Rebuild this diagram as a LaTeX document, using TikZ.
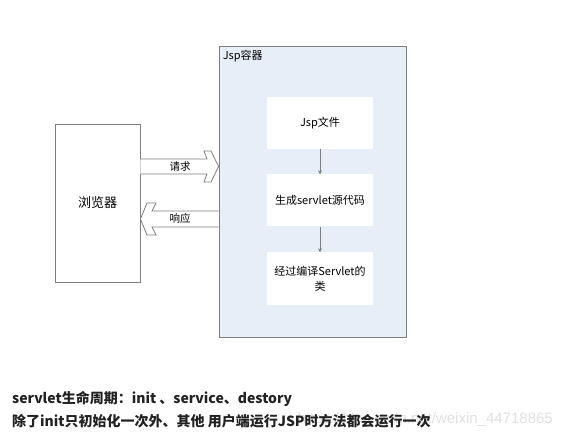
\documentclass[tikz,border=0pt]{standalone}
\usepackage{fontspec}
\setmainfont{Noto Sans CJK SC}
\newfontfamily\markfont{Liberation Sans}
\usetikzlibrary{arrows.meta, positioning, calc}
\definecolor{BoxLine}{HTML}{7F7F7F}
\definecolor{CPale}{HTML}{E8EEF7}
\definecolor{CWhite}{HTML}{FFFFFF}
\definecolor{CText}{HTML}{222222}
\tikzset{
  stagebox/.style={fill=CWhite, minimum width=106pt, minimum height=52pt, inner sep=1pt, align=center, font=\fontsize{11}{15}\selectfont, text width=100pt},
  flowline/.style={draw=BoxLine, thick, -{Stealth[length=4pt,width=4pt]}},
  blockarrow/.style={draw=BoxLine, fill=CWhite, line width=0.8pt, line join=miter},
  notetext/.style={anchor=base west, inner sep=0pt, text=CText, font=\fontsize{14}{16}\selectfont\bfseries}
}

\begin{document}
\begin{tikzpicture}[x=1pt, y=-1pt]
  \useasboundingbox[fill=CWhite] (0,0) rectangle (562,438);
  % browser and container
  \node[draw=BoxLine, line width=0.9pt, minimum width=85pt, minimum height=158pt,
        font=\fontsize{13}{15}\selectfont] (browser) at (97.5,203) {浏览器};
  \node[draw=BoxLine, fill=CPale, line width=0.9pt, minimum width=187pt, minimum height=291pt] (container) at (312.5,191.5) {};
  \node[anchor=west, inner sep=0pt, font=\fontsize{11}{13}\selectfont] (ctitle) at ($(container.north west)+(4,11)$) {Jsp容器};
  % stages inside the container
  \node[stagebox] (jspfile) at (320,123) {Jsp文件};
  \node[stagebox] (source) at (320,200.5) {生成servlet源代码};
  \node[stagebox] (classfile) at (320,278.5) {经过编译Servlet的\\类};
  \draw[flowline] (jspfile) -- (source);
  \draw[flowline] (source) -- (classfile);
  % request and response arrows
  \draw[blockarrow] (browser.east |- 0,159) -- (207,159) -- (204,151) -- (211,151)
        -- (container.west |- 0,166.5) -- (211,182) -- (204,182) -- (207,174) -- (browser.east |- 0,174);
  \draw[blockarrow] (container.west |- 0,211) -- (152,211) -- (156,203) -- (147,203)
        -- (browser.east |- 0,219) -- (147,235) -- (156,235) -- (152,227) -- (container.west |- 0,227);
  \node[font=\fontsize{10.5}{12}\selectfont] (req) at (180,166.5) {请求};
  \node[font=\fontsize{10.5}{12}\selectfont] (resp) at (180,219) {响应};
  % notes below
  \node[anchor=base east, inner sep=0pt, text=black!12, font=\markfont\fontsize{15}{17}\selectfont] (mark) at (553,423) {https://blog.csdn.net/weixin\_44718865};
  \node[notetext] (life) at (12,403) {servlet生命周期：init 、service、destory};
  \node[notetext] (once) at (12,426) {除了init只初始化一次外、其他 用户端运行JSP时方法都会运行一次};
\end{tikzpicture}
\end{document}
